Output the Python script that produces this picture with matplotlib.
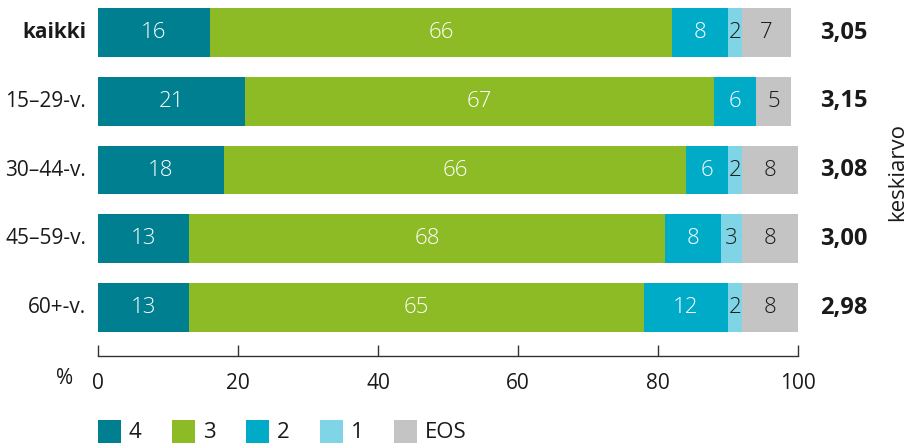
import matplotlib
matplotlib.use("Agg")
import matplotlib.pyplot as plt
from matplotlib.patches import Rectangle
from matplotlib.transforms import blended_transform_factory

plt.rcParams['font.family'] = ['Open Sans', 'DejaVu Sans']

categories = ["kaikki", "15–29-v.", "30–44-v.", "45–59-v.", "60+-v."]
series_names = ["4", "3", "2", "1", "EOS"]
v4 = [16, 21, 18, 13, 13]
v3 = [66, 67, 66, 68, 65]
v2 = [8, 6, 6, 8, 12]
v1 = [2, 0, 2, 3, 2]
veos = [7, 5, 8, 8, 8]
means = ["3,05", "3,15", "3,08", "3,00", "2,98"]
xticks = [0, 20, 40, 60, 80, 100]

colors = ["#007f91", "#8cbb26", "#00abc8", "#7fd5e5", "#c4c4c4"]
text_colors = ["white", "white", "white", "#1a1a1a", "#1a1a1a"]

W, H = 912, 443
fig = plt.figure(figsize=(W / 100, H / 100), dpi=100)
ax = fig.add_axes([98 / W, 87 / H, 700 / W, 356 / H])

series = [v4, v3, v2, v1, veos]
ypos = list(range(len(categories)))
left = [0] * len(categories)
for s, vals in enumerate(series):
    ax.barh(ypos, vals, left=left, height=0.71, color=colors[s], linewidth=0)
    for i, v in enumerate(vals):
        if v > 0:
            ax.text(left[i] + v / 2, i, str(v), ha='center', va='center',
                    color=text_colors[s], fontsize=16, fontweight='light')
    left = [l + v for l, v in zip(left, vals)]

ax.set_xlim(0, 100)
ax.set_ylim(4.705, -0.473)
ax.set_yticks([])
for sp in ['top', 'right', 'left']:
    ax.spines[sp].set_visible(False)
ax.spines['bottom'].set_color('#333333')
ax.spines['bottom'].set_linewidth(1)
ax.set_xticks(xticks)
ax.set_xticklabels([str(t) for t in xticks])
ax.tick_params(axis='x', direction='in', length=8, width=1, color='#333333',
               labelsize=15, pad=12, labelcolor='#1a1a1a')

trans = blended_transform_factory(fig.transFigure, ax.transData)
for i, c in enumerate(categories):
    ax.text(86 / W, i, c, transform=trans, ha='right', va='center', fontsize=15,
            color='#1a1a1a', fontweight='bold' if i == 0 else 'normal')
    ax.text(820 / W, i, means[i], transform=trans, ha='left', va='center',
            fontsize=17, fontweight='bold', color='#1a1a1a')

fig.text(65 / W, 1 - 379 / H, "%", ha='center', va='center', fontsize=15, color='#1a1a1a')
fig.text(898 / W, 1 - 172 / H, "keskiarvo", rotation=90, ha='center', va='center',
         fontsize=16, color='#1a1a1a')

# legend
for k, name in enumerate(series_names):
    x0 = 98 + k * 74
    fig.add_artist(Rectangle((x0 / W, 0.0), 23 / W, 23 / H,
                             transform=fig.transFigure, color=colors[k], lw=0))
    fig.text((x0 + 31) / W, 1 - 432 / H, name, ha='left', va='center',
             fontsize=16, color='#1a1a1a')

fig.savefig("out.png", dpi=100)
